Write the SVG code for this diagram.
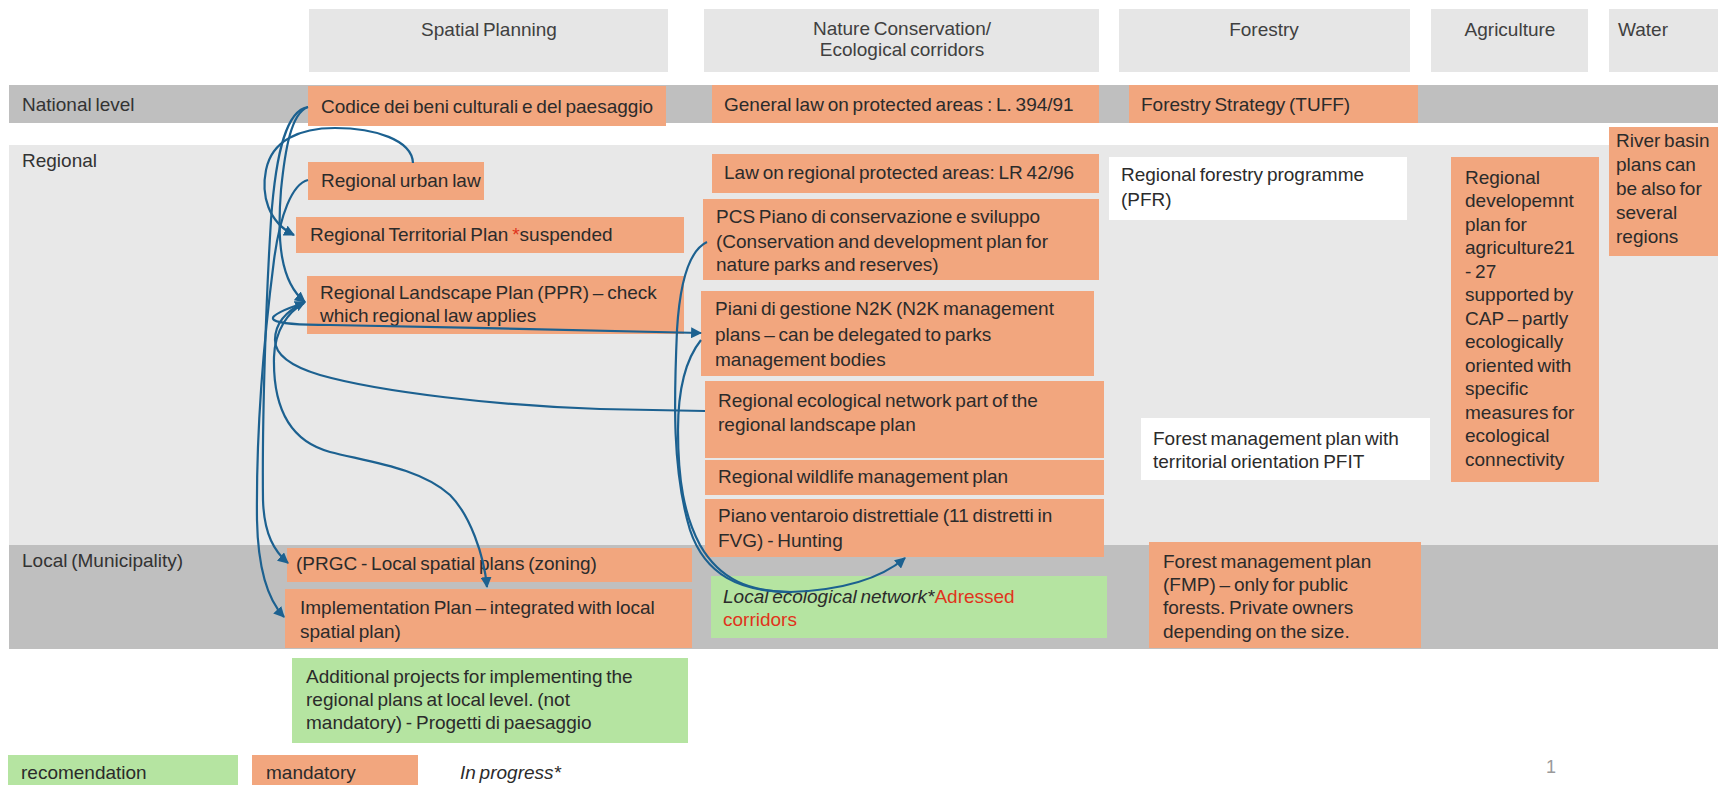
<svg xmlns="http://www.w3.org/2000/svg" width="1718" height="785" viewBox="0 0 1718 785">
<style>
.hd{fill:#e6e6e6}
.band{fill:#bfbfbf}
.reg{fill:#e8e8e8}
.or{fill:#f2a67e}
.gr{fill:#b5e4a1}
.wh{fill:#ffffff}
text{font-family:"Liberation Sans",Arial,sans-serif;font-size:19px;fill:#2b2b2b;word-spacing:-1.5px}
.hx{fill:#404040;text-anchor:middle}
.lb{fill:#333333}
.red{fill:#e0341c}
.it{font-style:italic}
.con path{fill:none;stroke:#1c6190;stroke-width:2.2}
</style>
<defs>
<marker id="ah" viewBox="0 0 10 10" refX="9" refY="5" markerWidth="11" markerHeight="11" markerUnits="userSpaceOnUse" orient="auto">
<path d="M0,0 L10,5 L0,10 z" fill="#1c6190"/>
</marker>
</defs>
<rect width="1718" height="785" fill="#ffffff"/>

<g id="headers">
<rect class="hd" x="309" y="9" width="359" height="63"/>
<text class="hx" x="489" y="36">Spatial Planning</text>
<rect class="hd" x="704" y="9" width="395" height="63"/>
<text class="hx" x="902" y="35">Nature Conservation/</text>
<text class="hx" x="902" y="56">Ecological corridors</text>
<rect class="hd" x="1119" y="9" width="291" height="63"/>
<text class="hx" x="1264" y="36">Forestry</text>
<rect class="hd" x="1431" y="9" width="157" height="63"/>
<text class="hx" x="1510" y="36">Agriculture</text>
<rect class="hd" x="1609" y="9" width="109" height="63"/>
<text class="hx" x="1643" y="36">Water</text>
</g>

<g id="bands">
<rect class="band" x="9" y="85" width="1709" height="38"/>
<text class="lb" x="22" y="111">National level</text>
<rect class="reg" x="9" y="145" width="1709" height="400"/>
<text class="lb" x="22" y="167">Regional</text>
<rect class="band" x="9" y="545" width="1709" height="104"/>
<text class="lb" x="22" y="567">Local (Municipality)</text>
</g>

<g id="n-codice"><rect class="or" x="308" y="86" width="358" height="40"/><text x="321" y="113">Codice dei beni culturali e del paesaggio</text></g>
<g id="n-general-law"><rect class="or" x="712" y="85" width="387" height="38"/><text x="724" y="111">General law on protected areas : L. 394/91</text></g>
<g id="n-forestry-strategy"><rect class="or" x="1129" y="85" width="289" height="38"/><text x="1141" y="111">Forestry Strategy (TUFF)</text></g>

<g id="n-urban-law"><rect class="or" x="308" y="162" width="176" height="38"/><text x="321" y="187">Regional urban law</text></g>
<g id="n-rtp"><rect class="or" x="296" y="217" width="388" height="36"/><text x="310" y="241">Regional Territorial Plan <tspan class="red">*</tspan>suspended</text></g>
<g id="n-ppr"><rect class="or" x="307" y="276" width="377" height="58"/><text x="320" y="299">Regional Landscape Plan (PPR) – check</text><text x="320" y="322">which regional law applies</text></g>

<g id="n-lr4296"><rect class="or" x="712" y="154" width="387" height="39"/><text x="724" y="179">Law on regional protected areas: LR 42/96</text></g>
<g id="n-pcs"><rect class="or" x="703" y="199" width="396" height="81"/><text x="716" y="223">PCS Piano di conservazione e sviluppo</text><text x="716" y="248">(Conservation and development plan for</text><text x="716" y="271">nature parks and reserves)</text></g>
<g id="n-n2k"><rect class="or" x="701" y="291" width="393" height="85"/><text x="715" y="315">Piani di gestione N2K (N2K management</text><text x="715" y="341">plans – can be delegated to parks</text><text x="715" y="366">management bodies</text></g>
<g id="n-eco-network"><rect class="or" x="705" y="381" width="399" height="77"/><text x="718" y="407">Regional ecological network part of the</text><text x="718" y="431">regional landscape plan</text></g>
<g id="n-wildlife"><rect class="or" x="705" y="460" width="399" height="35"/><text x="718" y="483">Regional wildlife management plan</text></g>
<g id="n-piano-ventaroio"><rect class="or" x="705" y="499" width="399" height="58"/><text x="718" y="522">Piano ventaroio distrettiale (11 distretti in</text><text x="718" y="547">FVG) - Hunting</text></g>

<g id="n-pfr"><rect class="wh" x="1109" y="157" width="298" height="63"/><text x="1121" y="181">Regional forestry programme</text><text x="1121" y="206">(PFR)</text></g>
<g id="n-pfit"><rect class="wh" x="1141" y="418" width="289" height="62"/><text x="1153" y="445">Forest management plan with</text><text x="1153" y="468">territorial orientation PFIT</text></g>

<g id="n-agri"><rect class="or" x="1451" y="157" width="148" height="325"/>
<text x="1465" y="184">Regional</text>
<text x="1465" y="207">developemnt</text>
<text x="1465" y="231">plan for</text>
<text x="1465" y="254">agriculture21</text>
<text x="1465" y="278">- 27</text>
<text x="1465" y="301">supported by</text>
<text x="1465" y="325">CAP – partly</text>
<text x="1465" y="348">ecologically</text>
<text x="1465" y="372">oriented with</text>
<text x="1465" y="395">specific</text>
<text x="1465" y="419">measures for</text>
<text x="1465" y="442">ecological</text>
<text x="1465" y="466">connectivity</text>
</g>

<g id="n-river"><rect class="or" x="1609" y="127" width="109" height="129"/>
<text x="1616" y="147">River basin</text>
<text x="1616" y="171">plans can</text>
<text x="1616" y="195">be also for</text>
<text x="1616" y="219">several</text>
<text x="1616" y="243">regions</text>
</g>

<g id="n-prgc"><rect class="or" x="287" y="548" width="405" height="34"/><text x="296" y="570">(PRGC - Local spatial plans (zoning)</text></g>
<g id="n-implementation"><rect class="or" x="285" y="589" width="407" height="59"/><text x="300" y="614">Implementation Plan – integrated with local</text><text x="300" y="638">spatial plan)</text></g>
<g id="n-local-eco"><rect class="gr" x="711" y="576" width="396" height="62"/><text x="723" y="603"><tspan class="it">Local ecological network*</tspan><tspan class="red">Adressed</tspan></text><text class="red" x="723" y="626">corridors</text></g>
<g id="n-fmp"><rect class="or" x="1149" y="542" width="272" height="106"/><text x="1163" y="568">Forest management plan</text><text x="1163" y="591">(FMP) – only for public</text><text x="1163" y="614">forests. Private owners</text><text x="1163" y="638">depending on the size.</text></g>

<g id="n-additional"><rect class="gr" x="292" y="658" width="396" height="85"/><text x="306" y="683">Additional projects for implementing the</text><text x="306" y="706">regional plans at local level. (not</text><text x="306" y="729">mandatory) - Progetti di paesaggio</text></g>

<g id="legend">
<rect class="gr" x="8" y="755" width="230" height="30"/><text x="21" y="779">recomendation</text>
<rect class="or" x="252" y="755" width="166" height="30"/><text x="266" y="779">mandatory</text>
<text class="it" x="460" y="779">In progress*</text>
<text x="1546" y="773" style="fill:#9a9a9a;font-size:18px">1</text>
</g>

<g id="connectors" class="con">
<path d="M308,107 C287,110 276,150 271,220 C266,300 262,420 263,500 C264,535 275,552 288,563" marker-end="url(#ah)"/>
<path d="M308,180 C292,184 280,215 274,260 C265,330 256,430 257,520 C258,570 268,600 284,617" marker-end="url(#ah)"/>
<path d="M413,163 C412,140 375,128 335,128 C300,128 272,140 266,170 C261,195 268,222 294,235" marker-end="url(#ah)"/>
<path d="M308,107 C291,113 285,150 281,190 C277,240 280,282 305,302" marker-end="url(#ah)"/>
<path d="M304,303 C288,312 275,330 274,357 C273,400 285,440 330,452 C370,462 420,468 450,495 C470,515 484,555 487,587" marker-end="url(#ah)"/>
<path d="M705,411 L600,409 C500,406 380,392 320,375 C290,366 275,355 275,340 C275,322 288,310 305,302" marker-end="url(#ah)"/>
<path d="M304,303 C288,308 268,316 274,320 C280,324 300,325 330,325 C450,327 600,331 701,333" marker-end="url(#ah)"/>
<path d="M707,242 C690,250 680,280 677,330 C674,400 672,470 690,530 C705,575 740,592 790,592 C850,590 885,575 905,558" marker-end="url(#ah)"/>
<path d="M701,340 C685,360 678,390 678,430 C678,480 684,515 700,545 C720,580 750,592 792,592"/>
</g>
</svg>
